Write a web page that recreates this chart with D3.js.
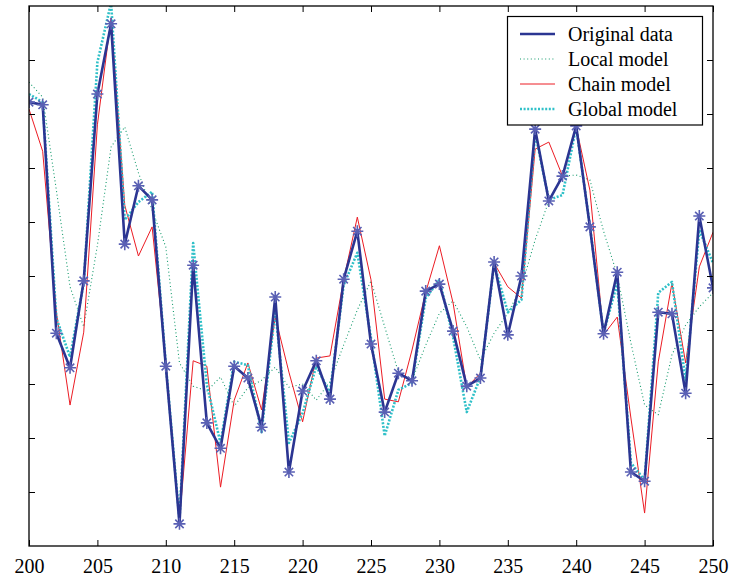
<!DOCTYPE html>
<html>
<head>
<meta charset="utf-8">
<script src="https://cdn.jsdelivr.net/npm/d3@7"></script>
<style>
  html, body { margin: 0; padding: 0; background: #fff; }
  svg { display: block; }
  text { font-family: "Liberation Serif", "Times New Roman", serif; }
</style>
</head>
<body>
<svg id="chart" width="731" height="582"></svg>
<script>
// ---- data (x = sample index, y in axis units) ----
const xValues = d3.range(200, 251);
const originalData = [8.22,8.17,3.94,3.30,4.91,8.37,9.67,5.59,6.67,6.41,3.33,0.41,5.20,2.28,1.81,3.33,3.11,2.20,4.61,1.37,2.87,3.43,2.72,4.94,5.83,3.74,2.48,3.20,3.06,4.72,4.85,3.98,2.96,3.11,5.26,3.91,5.00,7.72,6.39,6.85,7.78,5.91,3.93,5.07,1.37,1.20,4.33,4.30,2.83,6.11,4.78];
const localModel   = [8.59,8.31,6.59,4.80,4.06,5.57,7.39,7.76,6.91,6.22,5.54,3.39,2.96,2.87,3.13,2.59,2.93,3.07,3.31,2.94,3.00,2.70,3.04,3.72,4.37,4.91,4.06,3.22,3.07,3.72,4.31,4.54,4.06,3.44,3.94,4.31,4.80,5.67,6.39,6.85,6.87,6.78,5.83,5.02,3.76,2.61,2.43,3.54,4.09,4.43,4.69];
const chainModel   = [8.09,7.31,4.33,2.61,3.96,7.80,9.78,6.31,5.37,5.91,3.44,0.48,3.43,3.33,1.09,2.70,3.39,2.52,4.24,3.22,2.30,3.48,3.52,4.93,6.09,4.93,2.72,2.67,3.63,4.70,5.56,4.50,2.94,3.20,5.24,4.80,4.59,7.35,7.48,6.85,7.76,6.59,3.91,4.24,2.37,0.61,3.41,4.87,3.39,5.17,5.81];
const globalModel  = [8.37,8.22,4.22,3.50,4.87,8.96,10.06,6.04,6.37,6.56,3.37,0.48,5.61,2.98,1.91,3.41,3.35,2.11,4.37,1.91,2.46,3.33,2.83,4.83,5.43,3.85,2.04,2.89,3.02,4.59,4.93,3.87,2.48,3.13,5.22,4.33,4.56,7.65,6.41,6.50,7.76,5.93,3.94,4.87,1.54,1.22,4.69,4.89,3.07,5.85,5.24];
const xTicks = [200, 205, 210, 215, 220, 225, 230, 235, 240, 245, 250];
const yTicks = [1, 2, 3, 4, 5, 6, 7, 8, 9];
const seriesNames = ["Original data", "Local model", "Chain model", "Global model"];

// ---- layout ----
const svg = d3.select("#chart");
const L = 29, R = 713, T = 6, B = 546;
const x = d3.scaleLinear().domain([200, 250]).range([L, R]);
const y = d3.scaleLinear().domain([0, 10]).range([B, T]);

const styles = {
  "Original data": { color: "#2b3592", width: 2.6, dash: null },
  "Local model":   { color: "#139a6c", width: 1.1, dash: "1,2.6" },
  "Chain model":   { color: "#ec1c24", width: 1.0, dash: null },
  "Global model":  { color: "#2fc0c8", width: 2.6, dash: "2,1.6" }
};

svg.append("defs").append("clipPath").attr("id", "plotclip")
  .append("rect").attr("x", L).attr("y", T).attr("width", R - L).attr("height", B - T);

const plot = svg.append("g").attr("clip-path", "url(#plotclip)");
const line = d3.line().x((d, i) => x(xValues[i])).y(d => y(d));

const seriesData = {
  "Original data": originalData,
  "Local model": localModel,
  "Chain model": chainModel,
  "Global model": globalModel
};

// draw order: local, chain, global, original on top
["Local model", "Chain model", "Global model", "Original data"].forEach(name => {
  const s = styles[name];
  plot.append("path")
    .datum(seriesData[name])
    .attr("d", line)
    .attr("fill", "none")
    .attr("stroke", s.color)
    .attr("stroke-width", s.width)
    .attr("stroke-linejoin", "round")
    .attr("stroke-dasharray", s.dash);
});

// star markers on original data
const star = d3.symbol().type(d3.symbolAsterisk).size(0);
const r = 6;
const mk = plot.append("g").selectAll("g").data(originalData).join("g")
  .attr("transform", (d, i) => `translate(${x(xValues[i])},${y(d)})`);
mk.append("path")
  .attr("d", `M${-r},0H${r}M0,${-r}V${r}M${-r*0.7},${-r*0.7}L${r*0.7},${r*0.7}M${-r*0.7},${r*0.7}L${r*0.7},${-r*0.7}`)
  .attr("stroke", "#5a60b4")
  .attr("stroke-width", 1.6)
  .attr("fill", "none");

// ---- axes (ticks inward, box frame) ----
const axB = d3.axisBottom(x).tickValues(xTicks).tickSize(-6).tickPadding(13).tickFormat(d3.format("d"));
const axT = d3.axisTop(x).tickValues(xTicks).tickSize(-6).tickFormat("");
const axL = d3.axisLeft(y).tickValues(yTicks).tickSize(-6).tickFormat("");
const axR = d3.axisRight(y).tickValues(yTicks).tickSize(-6).tickFormat("");

function styleAxis(g) {
  g.select(".domain").remove();
  g.selectAll(".tick line").attr("stroke", "#000").attr("stroke-width", 1);
  g.selectAll("text").attr("font-size", 20).attr("fill", "#000")
    .attr("font-family", "'Liberation Serif', 'Times New Roman', serif");
}
svg.append("g").attr("transform", `translate(0,${B})`).call(axB).call(styleAxis);
svg.append("g").attr("transform", `translate(0,${T})`).call(axT).call(styleAxis);
svg.append("g").attr("transform", `translate(${L},0)`).call(axL).call(styleAxis);
svg.append("g").attr("transform", `translate(${R},0)`).call(axR).call(styleAxis);

svg.append("rect").attr("x", L).attr("y", T).attr("width", R - L).attr("height", B - T)
  .attr("fill", "none").attr("stroke", "#000").attr("stroke-width", 1.3);

// ---- legend ----
const lg = svg.append("g");
lg.append("rect").attr("x", 507.5).attr("y", 16.5).attr("width", 195).attr("height", 108.5)
  .attr("fill", "#fff").attr("stroke", "#000").attr("stroke-width", 1.2);
seriesNames.forEach((name, i) => {
  const s = styles[name];
  const yy = 34 + i * 25;
  lg.append("line").attr("x1", 520).attr("x2", 555).attr("y1", yy).attr("y2", yy)
    .attr("stroke", s.color).attr("stroke-width", s.width).attr("stroke-dasharray", s.dash);
  lg.append("text").attr("x", 568).attr("y", yy).attr("dy", "0.35em")
    .attr("font-size", 20).attr("fill", "#000").text(name);
});
</script>
</body>
</html>
